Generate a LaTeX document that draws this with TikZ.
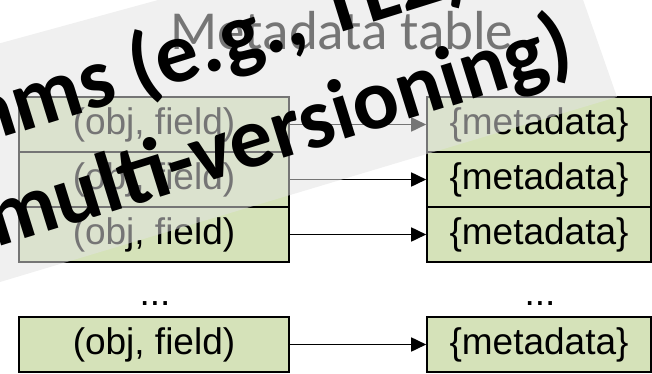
\documentclass[tikz,border=0pt]{standalone}
\usepackage{fontspec}
\setmainfont{Liberation Sans}
\newfontfamily\carlfont{Carlito}
\usetikzlibrary{arrows.meta}
\definecolor{boxgreen}{HTML}{D5E2B9}
\definecolor{bannergray}{RGB}{226,226,226}
\begin{document}
\begin{tikzpicture}[x=1pt,y=-1pt,
  cell/.style={draw=black, line width=1.6pt, fill=boxgreen, minimum width=270pt, minimum height=55pt, inner sep=0pt, font=\fontsize{37}{40}\selectfont},
  rcell/.style={cell, minimum width=224pt},
  link/.style={line width=1.7pt, -{Triangle[length=15pt,width=14pt]}},
  dotsnode/.style={inner sep=0pt, font=\fontsize{37}{40}\selectfont},
  bannertext/.style={inner sep=0pt, rotate=17.3, anchor=base west, font=\carlfont\bfseries\fontsize{86}{90}\selectfont},
  titlestyle/.style={inner sep=0pt, anchor=base, font=\carlfont\fontsize{55}{60}\selectfont},
]
\useasboundingbox (0,0) rectangle (652,374);
\node[titlestyle] (title) at (342,50) {Metadata table};
\node[cell] (l1) at (154,124.5) {(obj, field)};
\node[cell] (l2) at (154,179.5) {(obj, field)};
\node[cell] (l3) at (154,234.5) {(obj, field)};
\node[cell] (l4) at (154,344.5) {(obj, field)};
\node[rcell] (r1) at (539,124.5) {\{metadata\}};
\node[rcell] (r2) at (539,179.5) {\{metadata\}};
\node[rcell] (r3) at (539,234.5) {\{metadata\}};
\node[rcell] (r4) at (539,344.5) {\{metadata\}};
\node[dotsnode, anchor=base] (ld) at (155,305.5) {...};
\node[dotsnode, anchor=base] (rd) at (540,305.5) {...};
\draw[link] (l1.east) -- (r1.west);
\draw[link] (l2.east) -- (r2.west);
\draw[link] (l3.east) -- (r3.west);
\draw[link] (l4.east) -- (r4.west);
\fill[bannergray, fill opacity=0.52] (-10,46) -- (180,-6) -- (581,-6) -- (617,97) -- (-10,285) -- cycle;
\node[bannertext] (b1) at (-24,146) {hms (e.g., TL2)};
\node[bannertext] (b2) at (-4,248) {multi-versioning)};
\end{tikzpicture}
\end{document}
